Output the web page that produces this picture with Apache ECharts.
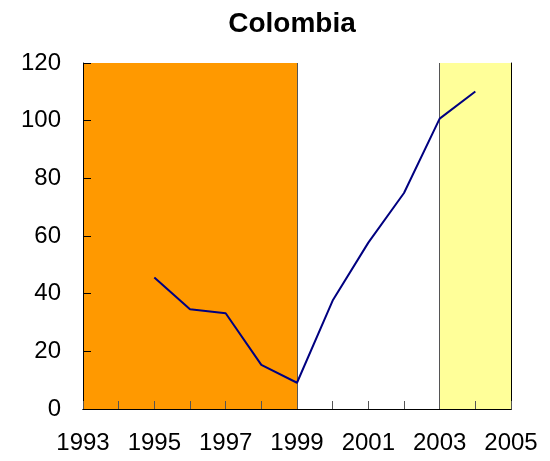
<!DOCTYPE html>
<html>
<head>
<meta charset="utf-8">
<script src="https://cdn.jsdelivr.net/npm/echarts@6/dist/echarts.min.js"></script>
<style>html,body{margin:0;padding:0;background:#fff}#c{width:550px;height:461px}</style>
</head>
<body>
<div id="c"></div>
<script>
const years = [1995, 1996, 1997, 1998, 1999, 2000, 2001, 2002, 2003, 2004];
const values = [45.6, 34.6, 33.2, 15.3, 9.1, 37.6, 57.7, 74.9, 100.7, 110.1];
const regions = [[1993, 1999, '#FF9900'], [2003, 2005, '#FFFF99']];
const boundaries = [1999, 2003];

const chart = echarts.init(document.getElementById('c'), null, {renderer: 'canvas'});
const font = 'Liberation Sans, Arial, sans-serif';
chart.setOption({
  animation: false,
  backgroundColor: '#fff',
  title: {
    text: 'Colombia', left: 287, top: 5, textAlign: 'center',
    textStyle: {fontFamily: font, fontSize: 28, fontWeight: 'bold', color: '#000'}
  },
  grid: {left: 83, right: 39, top: 63, bottom: 52},
  xAxis: [{
    type: 'value', min: 1993, max: 2005, interval: 1, z: 10,
    axisLine: {lineStyle: {color: '#000', width: 1}},
    axisTick: {inside: true, length: 8, lineStyle: {color: '#555'}},
    axisLabel: {
      fontFamily: font, fontSize: 24, color: '#000', margin: 22,
      formatter: v => (v % 2 === 1 ? String(v) : '')
    },
    splitLine: {show: false}
  }, {
    type: 'value', min: 1993, max: 2005, position: 'top', z: 10,
    axisLine: {show: true, lineStyle: {color: '#000', width: 1}},
    axisTick: {show: false}, axisLabel: {show: false}, splitLine: {show: false}
  }],
  yAxis: [{
    type: 'value', min: 0, max: 120, interval: 20, z: 10,
    axisLine: {show: true, lineStyle: {color: '#000', width: 1}},
    axisTick: {show: true, inside: true, length: 8, lineStyle: {color: '#000'}},
    axisLabel: {fontFamily: font, fontSize: 24, color: '#000', margin: 22},
    splitLine: {show: false}
  }, {
    type: 'value', min: 0, max: 120, position: 'right', z: 10,
    axisLine: {show: true, lineStyle: {color: '#000', width: 1}},
    axisTick: {show: false}, axisLabel: {show: false}, splitLine: {show: false}
  }],
  series: [{
    type: 'line',
    data: years.map((y, i) => [y, values[i]]),
    symbol: 'none',
    lineStyle: {color: '#000080', width: 2},
    z: 12,
    markArea: {
      silent: true,
      data: regions.map(r => [{xAxis: r[0], itemStyle: {color: r[2]}}, {xAxis: r[1]}])
    },
    markLine: {
      silent: true, symbol: 'none', label: {show: false},
      lineStyle: {color: '#555', width: 1, type: 'solid'},
      data: boundaries.map(b => ({xAxis: b}))
    }
  }]
});
</script>
</body>
</html>
